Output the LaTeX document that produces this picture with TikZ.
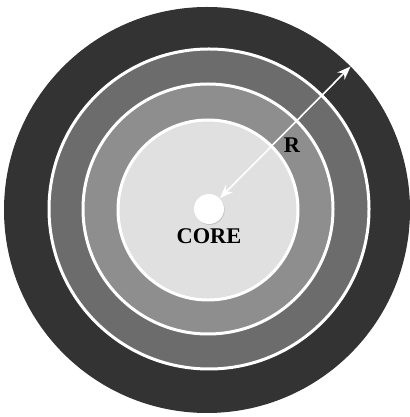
\documentclass[tikz,border=0pt]{standalone}
\usepackage{fontspec}
\setmainfont{Liberation Serif}
\usetikzlibrary{arrows.meta,positioning,shadows}
\definecolor{shell}{RGB}{51,51,51}
\definecolor{mantle}{RGB}{108,108,108}
\definecolor{midring}{RGB}{142,142,142}
\definecolor{pale}{RGB}{224,224,224}
\tikzset{
  >={Stealth[length=2.4mm,width=1.8mm]},
  ring/.style={fill=#1,draw=white,line width=1.5pt},
  ring/.default=pale,
  core/.style={circle,fill=white,draw=none,minimum size=15pt,inner sep=0pt,
    drop shadow={opacity=0.35,shadow xshift=0.3pt,shadow yshift=-0.4pt}},
  tag/.style={font=\fontsize{11.2}{13}\selectfont\bfseries,text=black,inner sep=1pt},
}
\begin{document}
\begin{tikzpicture}[x=0.5pt,y=0.5pt]
    \useasboundingbox (0,0) rectangle (409,417);
    % layers
    \fill[shell] (207,207) circle (203);
    \draw[ring=mantle] (209,208) circle (160);
    \draw[ring=midring] (208,208) circle (125);
    \draw[ring=pale] (208,207) circle (90);
    % core and radius
    \node[core] (core) at (209,208) {};
    \node[tag,below=1pt of core] (corename) {CORE};
    \coordinate (rim) at ([shift={(45:203)}]207,207);
    \draw[white,line width=0.8pt,<->] (core.45) -- (rim);
    \node[tag] (radius) at (292,272) {R};
\end{tikzpicture}
\end{document}
